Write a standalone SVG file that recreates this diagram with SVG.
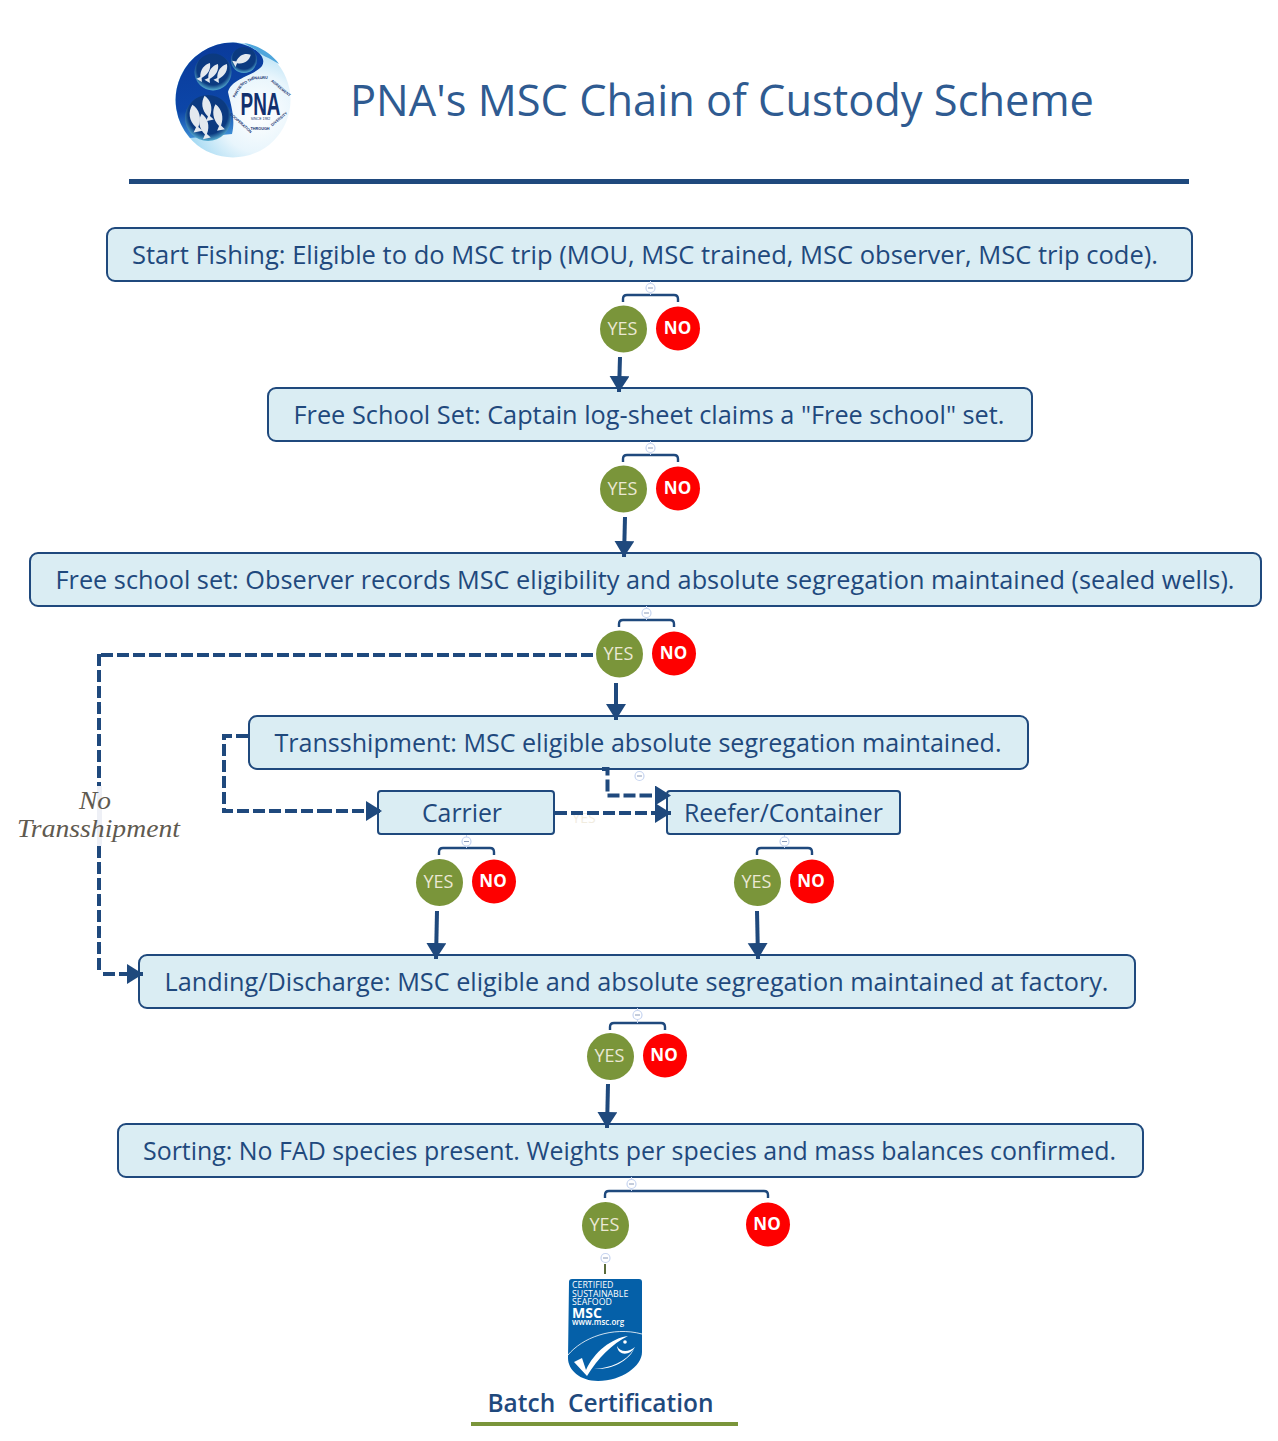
<svg xmlns="http://www.w3.org/2000/svg" width="1278" height="1441" viewBox="0 0 1278 1441">
<style>
.box{fill:#daedf3;stroke:#1f497d;stroke-width:2}
.t{font-family:"Open Sans","Noto Sans",sans-serif;fill:#1f497d;font-size:25px;text-anchor:middle}
.yes{fill:#7a953a}
.no{fill:#fe0000}
.yt{font-family:"Open Sans","Noto Sans",sans-serif;font-size:18px;fill:#ebe8d4;text-anchor:middle}
.nt{font-family:"Open Sans","Noto Sans",sans-serif;font-size:17px;font-weight:700;fill:#fff;text-anchor:middle}
.br{fill:none;stroke:#1f497d;stroke-width:2.4}
.solid{fill:none;stroke:#1f497d;stroke-width:4;marker-end:url(#arr)}
.dash{fill:none;stroke:#1f497d;stroke-width:4;stroke-dasharray:12 4}
.dasha{fill:none;stroke:#1f497d;stroke-width:4;stroke-dasharray:12 4;marker-end:url(#arr)}
.mi circle{fill:#fff;stroke:#c6d4f0;stroke-width:1.2}
.mi line{stroke:#8a9ab8;stroke-width:1}
.mi .st{stroke:#c6d4f0;stroke-width:1}
.lt{font-family:"Liberation Sans",sans-serif;font-size:3.8px;font-weight:700;fill:#12306e;text-anchor:middle}
</style>
<defs>
<marker id="arr" markerUnits="userSpaceOnUse" markerWidth="20" markerHeight="24" refX="16" refY="10" orient="auto"><path d="M0 0L16 10L0 20Z" fill="#1f497d"/></marker>
<radialGradient id="lg" cx="0.72" cy="0.62" r="0.75"><stop offset="0" stop-color="#ffffff"/><stop offset="0.45" stop-color="#e8f5fc"/><stop offset="0.75" stop-color="#b4e0f5"/><stop offset="1" stop-color="#7cc8ec"/></radialGradient>
<linearGradient id="dk" x1="0.2" y1="0" x2="0.3" y2="1"><stop offset="0" stop-color="#0a3a9a"/><stop offset="0.7" stop-color="#0c46a8"/><stop offset="1" stop-color="#3f8fd6"/></linearGradient>
<radialGradient id="bub" cx="0.5" cy="0.42" r="0.6"><stop offset="0" stop-color="#0d3a80"/><stop offset="0.72" stop-color="#0b3a80"/><stop offset="1" stop-color="#63c0dd"/></radialGradient>
<path id="fish" d="M0-11C5-6 6 2 1 9L4 13L-4 13L-1 9C-6 2-5-6 0-11Z" fill="#e3e9ef"/>
</defs>

<g id="label-yes"><text x="584" y="823" font-family="Open Sans,sans-serif" font-size="14" fill="#f1ecdf" text-anchor="middle">YES</text></g>

<g id="logo">
<circle cx="233" cy="100" r="57.500" fill="url(#lg)"/>
<path d="M233 42.500A57.500 57.500 0 0 0 190 138L232 134C236 118 230 102 228 92C232 78 254 76 262 66C268 56 252 44 233 42.500Z" fill="url(#dk)"/>
<path d="M244 43C258 45 272 54 279 64C268 57 262 56 256 50Z" fill="#4fa6dc"/>
<circle cx="213" cy="72" r="18.500" fill="url(#bub)"/>
<circle cx="244" cy="60" r="13" fill="url(#bub)"/>
<circle cx="208" cy="118" r="23" fill="url(#bub)"/>
<use href="#fish" transform="translate(205,71) rotate(32) scale(.8,.85)"/>
<use href="#fish" transform="translate(213,72) rotate(32) scale(.8,.85)"/>
<use href="#fish" transform="translate(222,72) rotate(32) scale(.8,.85)"/>
<use href="#fish" transform="translate(243,59) rotate(62) scale(.9,.8)"/>
<use href="#fish" transform="translate(195,117) rotate(-12) scale(1.150,1.150)"/>
<use href="#fish" transform="translate(207,107) rotate(-12) scale(1,1.050)"/>
<use href="#fish" transform="translate(204,125) rotate(-12) scale(1,1.050)"/>
<use href="#fish" transform="translate(218,116) rotate(-12) scale(1,1.100)"/>
<text x="260.500" y="115" font-family="Liberation Sans,sans-serif" font-size="32" font-weight="700" fill="#12306e" text-anchor="middle" textLength="40" lengthAdjust="spacingAndGlyphs">PNA</text>
<text x="260.500" y="119.500" font-family="Liberation Sans,sans-serif" font-size="3.500" fill="#12306e" text-anchor="middle">SINCE 1982</text>
<text class="lt" transform="translate(239,91) rotate(-58)">PARTIES</text>
<text class="lt" transform="translate(249,82) rotate(-30)">TO THE</text>
<text class="lt" transform="translate(261,79) rotate(-2)">NAURU</text>
<text class="lt" transform="translate(280,89) rotate(40)">AGREEMENT</text>
<text class="lt" transform="translate(240,124) rotate(42)">COOPERATION</text>
<text class="lt" transform="translate(260,130) rotate(0)">THROUGH</text>
<text class="lt" transform="translate(280,120) rotate(-40)">DIVERSITY</text>
</g>

<g id="title">
<text x="722" y="116" font-family="Open Sans,Noto Sans,sans-serif" font-size="44" fill="#2f5b91" text-anchor="middle" textLength="744" lengthAdjust="spacingAndGlyphs">PNA's MSC Chain of Custody Scheme</text>
<rect x="129" y="179" width="1060" height="5" fill="#1f497d"/>
</g>

<g id="n1"><rect class="box" x="107" y="228" width="1085" height="53" rx="8"/><text class="t" x="645" y="264" textLength="1026" lengthAdjust="spacingAndGlyphs">Start Fishing: Eligible to do MSC trip (MOU, MSC trained, MSC observer, MSC trip code).</text></g>
<g id="n2"><rect class="box" x="268" y="388" width="764" height="53" rx="8"/><text class="t" x="649" y="424" textLength="711" lengthAdjust="spacingAndGlyphs">Free School Set: Captain log-sheet claims a "Free school" set.</text></g>
<g id="n3"><rect class="box" x="30" y="553" width="1231" height="53" rx="8"/><text class="t" x="645" y="589" textLength="1179" lengthAdjust="spacingAndGlyphs">Free school set: Observer records MSC eligibility and absolute segregation maintained (sealed wells).</text></g>
<g id="n4"><rect class="box" x="249" y="716" width="779" height="53" rx="8"/><text class="t" x="638" y="752" textLength="727" lengthAdjust="spacingAndGlyphs">Transshipment: MSC eligible absolute segregation maintained.</text></g>
<g id="n5"><rect class="box" x="378" y="791" width="176" height="43" rx="3"/><text class="t" x="462" y="822" textLength="80" lengthAdjust="spacingAndGlyphs">Carrier</text></g>
<g id="n6"><rect class="box" x="667" y="791" width="233" height="43" rx="3"/><text class="t" x="783.500" y="822" textLength="199" lengthAdjust="spacingAndGlyphs">Reefer/Container</text></g>
<g id="n7"><rect class="box" x="139" y="955" width="996" height="53" rx="8"/><text class="t" x="636.500" y="991" textLength="944" lengthAdjust="spacingAndGlyphs">Landing/Discharge: MSC eligible and absolute segregation maintained at factory.</text></g>
<g id="n8"><rect class="box" x="118" y="1124" width="1025" height="53" rx="8"/><text class="t" x="629.500" y="1160" textLength="973" lengthAdjust="spacingAndGlyphs">Sorting: No FAD species present. Weights per species and mass balances confirmed.</text></g>

<g id="connectors">
<path class="br" d="M623 302V299Q623 295 627 295H674Q678 295 678 299V302"/>
<path class="br" d="M623 462V459Q623 455 627 455H674Q678 455 678 459V462"/>
<path class="br" d="M619 627V624Q619 620 623 620H670Q674 620 674 624V627"/>
<path class="br" d="M439 855V852Q439 848 443 848H490Q494 848 494 852V855"/>
<path class="br" d="M757 855V852Q757 848 761 848H808Q812 848 812 852V855"/>
<path class="br" d="M610 1030V1027Q610 1023 614 1023H661Q665 1023 665 1027V1030"/>
<path class="br" d="M605 1198V1195Q605 1191 609 1191H764Q768 1191 768 1195V1198"/>
<path d="M605 1264V1274" stroke="#5a6b3a" stroke-width="2" fill="none"/>
<path class="solid" d="M620 357L619 392"/>
<path class="solid" d="M625 517L624 557"/>
<path class="solid" d="M616 683L616 720"/>
<path class="solid" d="M437 911L436 959"/>
<path class="solid" d="M757 911L758 959"/>
<path class="solid" d="M608 1084L607 1128"/>
<path class="dash" d="M593 655H100"/>
<path class="dash" d="M99 654V973"/>
<path class="dasha" d="M103 974H143"/>
<path class="dash" d="M248 736H224V811H330"/>
<path class="dasha" d="M320 811H382"/>
<path class="dash" d="M602 769H607.500V795.500H640"/>
<path class="dasha" d="M640 795.500H671"/>
<path class="dasha" d="M555 813H671"/>
</g>

<g id="minus-icons">
<g class="mi"><line class="st" x1="650.500" y1="281" x2="650.500" y2="295"/><circle cx="650.500" cy="288" r="4.500"/><line x1="648" y1="288" x2="653" y2="288"/></g>
<g class="mi"><line class="st" x1="650.500" y1="441" x2="650.500" y2="455"/><circle cx="650.500" cy="448" r="4.500"/><line x1="648" y1="448" x2="653" y2="448"/></g>
<g class="mi"><line class="st" x1="646.500" y1="606" x2="646.500" y2="620"/><circle cx="646.500" cy="613" r="4.500"/><line x1="644" y1="613" x2="649" y2="613"/></g>
<g class="mi"><circle cx="639.500" cy="776" r="4.500"/><line x1="637" y1="776" x2="642" y2="776"/></g>
<g class="mi"><line class="st" x1="466.500" y1="835" x2="466.500" y2="848"/><circle cx="466.500" cy="841.500" r="4.500"/><line x1="464" y1="841.500" x2="469" y2="841.500"/></g>
<g class="mi"><line class="st" x1="784.500" y1="835" x2="784.500" y2="848"/><circle cx="784.500" cy="841.500" r="4.500"/><line x1="782" y1="841.500" x2="787" y2="841.500"/></g>
<g class="mi"><line class="st" x1="637.500" y1="1008" x2="637.500" y2="1023"/><circle cx="637.500" cy="1015" r="4.500"/><line x1="635" y1="1015" x2="640" y2="1015"/></g>
<g class="mi"><line class="st" x1="631.500" y1="1177" x2="631.500" y2="1191"/><circle cx="631.500" cy="1184" r="4.500"/><line x1="629" y1="1184" x2="634" y2="1184"/></g>
<g class="mi"><circle cx="605.500" cy="1258" r="4.500"/><line x1="603" y1="1258" x2="608" y2="1258"/></g>
</g>

<g id="y1"><circle class="yes" cx="623.500" cy="329" r="23.500"/><text class="yt" x="622.500" y="335">YES</text></g>
<g id="x1"><circle class="no" cx="678" cy="328.500" r="22"/><text class="nt" x="677.500" y="334">NO</text></g>
<g id="y2"><circle class="yes" cx="623.500" cy="489" r="23.500"/><text class="yt" x="622.500" y="495">YES</text></g>
<g id="x2"><circle class="no" cx="678" cy="488.500" r="22"/><text class="nt" x="677.500" y="494">NO</text></g>
<g id="y3"><circle class="yes" cx="619.500" cy="654" r="23.500"/><text class="yt" x="618.500" y="660">YES</text></g>
<g id="x3"><circle class="no" cx="674" cy="653.500" r="22"/><text class="nt" x="673.500" y="659">NO</text></g>
<g id="y4"><circle class="yes" cx="439.500" cy="882.500" r="23.500"/><text class="yt" x="438.500" y="888">YES</text></g>
<g id="x4"><circle class="no" cx="494" cy="881.500" r="22"/><text class="nt" x="493" y="887">NO</text></g>
<g id="y5"><circle class="yes" cx="757.500" cy="882.500" r="23.500"/><text class="yt" x="756.500" y="888">YES</text></g>
<g id="x5"><circle class="no" cx="812" cy="881.500" r="22"/><text class="nt" x="811" y="887">NO</text></g>
<g id="y6"><circle class="yes" cx="610.500" cy="1056.500" r="23.500"/><text class="yt" x="609.500" y="1062">YES</text></g>
<g id="x6"><circle class="no" cx="665" cy="1055.500" r="22"/><text class="nt" x="664" y="1061">NO</text></g>
<g id="y7"><circle class="yes" cx="605.500" cy="1225.500" r="23.500"/><text class="yt" x="604.500" y="1231">YES</text></g>
<g id="x7"><circle class="no" cx="768" cy="1224.500" r="22"/><text class="nt" x="767" y="1230">NO</text></g>

<g id="label-no-transshipment">
<rect x="97" y="786" width="5" height="60" fill="#eef0f6"/>
<text font-family="Liberation Serif,serif" font-style="italic" font-size="25" fill="#5f5a50" text-anchor="middle"><tspan x="95" y="809" textLength="32" lengthAdjust="spacingAndGlyphs">No</tspan><tspan x="98.500" y="837" textLength="163" lengthAdjust="spacingAndGlyphs">Transshipment</tspan></text>
</g>

<g id="msc">
<path d="M569 1282Q569 1279 572 1279H639Q642 1279 642 1282V1352C642 1366 622 1381 598 1381C580 1381 568 1370 568 1358Z" fill="#0560a8"/>
<text font-family="Open Sans,sans-serif" font-size="8.800" fill="#fff"><tspan x="572" y="1288">CERTIFIED</tspan><tspan x="572" y="1296.500">SUSTAINABLE</tspan><tspan x="572" y="1305">SEAFOOD</tspan></text>
<text x="572" y="1318" font-family="Open Sans,sans-serif" font-size="14" font-weight="700" fill="#fff">MSC</text>
<text x="572" y="1324.500" font-family="Open Sans,sans-serif" font-size="8" font-weight="600" fill="#fff">www.msc.org</text>
<path d="M568 1355C582 1338 612 1326 642 1334" fill="none" stroke="#fff" stroke-width="0.800"/>
<path d="M574 1362L582 1358L586 1370C594 1352 612 1338 628 1336C612 1344 598 1358 587 1376Z" fill="#fff"/>
<path d="M594 1369C610 1368 626 1362 634 1349C628 1362 610 1370 594 1369Z" fill="#fff"/>
<path d="M617 1346C620 1352 628 1353 635 1347C630 1356 618 1356 617 1346Z" fill="#fff"/>
<circle cx="625" cy="1342" r="1.800" fill="#fff"/>
</g>
<g id="batch">
<text x="600.500" y="1412" font-family="Open Sans,Noto Sans,sans-serif" font-size="25" font-weight="600" fill="#1f497d" text-anchor="middle" xml:space="preserve" textLength="226" lengthAdjust="spacingAndGlyphs">Batch  Certification</text>
<rect x="471" y="1422" width="267" height="4" fill="#7a953a"/>
</g>
</svg>
